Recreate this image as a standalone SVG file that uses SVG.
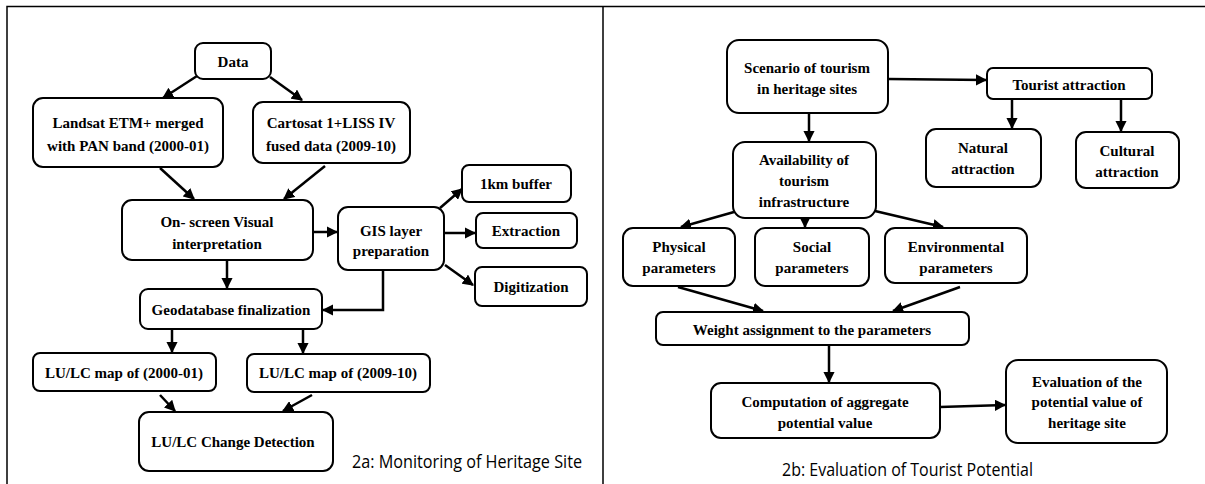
<svg xmlns="http://www.w3.org/2000/svg" width="1205" height="484" viewBox="0 0 1205 484">
<style>
.n rect{fill:#fff;stroke:#000;stroke-width:2}
.n text{font-family:'Liberation Serif','DejaVu Serif','Times New Roman',serif;font-weight:bold;font-size:15px;text-anchor:middle;fill:#000}
.c line,.c path{stroke:#000;stroke-width:2.5;fill:none;marker-end:url(#ah)}
.cap{font-family:'Open Sans','Liberation Sans',sans-serif;font-size:19px;fill:#000}
</style>
<defs>
<marker id="ah" viewBox="0 0 10 10" refX="9" refY="5" markerWidth="4.5" markerHeight="4.5" orient="auto" markerUnits="strokeWidth">
<path d="M0,0 L10,5 L0,10 z" fill="#000"/>
</marker>
</defs>
<rect x="0" y="0" width="1205" height="484" fill="#fff"/>
<path d="M7,484 V6.5 H1205 M603,6 V484" stroke="#000" stroke-width="1.5" fill="none"/>

<g class="c">
<line x1="197" y1="76" x2="163" y2="98"/>
<line x1="270" y1="77" x2="302" y2="100"/>
<line x1="160" y1="168" x2="194" y2="199"/>
<line x1="325" y1="166" x2="284" y2="199"/>
<line x1="313" y1="232" x2="337" y2="232"/>
<line x1="440" y1="208" x2="462" y2="189"/>
<line x1="444" y1="233" x2="475" y2="233"/>
<line x1="445" y1="265" x2="473" y2="285"/>
<path d="M383,270 V310 H323"/>
<line x1="227" y1="260" x2="227" y2="288"/>
<line x1="172" y1="329" x2="172" y2="352"/>
<line x1="303" y1="329" x2="303" y2="353"/>
<line x1="160" y1="395" x2="175" y2="411"/>
<line x1="312" y1="395" x2="283" y2="411"/>

<line x1="888" y1="79" x2="986" y2="80"/>
<line x1="809" y1="113" x2="809" y2="141"/>
<line x1="1012" y1="100" x2="1012" y2="128"/>
<line x1="1121" y1="100" x2="1121" y2="131"/>
<line x1="734" y1="212" x2="681" y2="227"/>
<line x1="805" y1="218" x2="805" y2="227"/>
<line x1="875" y1="211" x2="943" y2="227"/>
<line x1="678" y1="287" x2="763" y2="311"/>
<line x1="960" y1="287" x2="893" y2="311"/>
<line x1="829" y1="345" x2="829" y2="382"/>
<line x1="940" y1="407" x2="1005" y2="405"/>
</g>

<g id="data" class="n"><rect x="195" y="43" width="76" height="36" rx="8"/><text x="233" y="67">Data</text></g>
<g id="landsat" class="n"><rect x="33" y="98" width="190" height="69" rx="10"/><text x="128" y="128">Landsat ETM+ merged</text><text x="128" y="151">with PAN band (2000-01)</text></g>
<g id="cartosat" class="n"><rect x="253" y="102" width="157" height="61" rx="10"/><text x="331" y="128">Cartosat 1+LISS IV</text><text x="331" y="151">fused data (2009-10)</text></g>
<g id="onscreen" class="n"><rect x="122" y="200" width="191" height="60" rx="10"/><text x="217" y="227">On- screen Visual</text><text x="217" y="249">interpretation</text></g>
<g id="gis" class="n"><rect x="338" y="207" width="106" height="63" rx="10"/><text x="391" y="236">GIS layer</text><text x="391" y="256">preparation</text></g>
<g id="buffer" class="n"><rect x="462" y="165" width="109" height="37" rx="7"/><text x="516" y="189">1km buffer</text></g>
<g id="extraction" class="n"><rect x="476" y="213" width="101" height="35" rx="7"/><text x="526" y="236">Extraction</text></g>
<g id="digitization" class="n"><rect x="475" y="267" width="112" height="39" rx="7"/><text x="531" y="292">Digitization</text></g>
<g id="geodb" class="n"><rect x="140" y="289" width="182" height="40" rx="8"/><text x="231" y="315">Geodatabase finalization</text></g>
<g id="lulc2000" class="n"><rect x="33" y="353" width="183" height="38" rx="7"/><text x="124" y="378">LU/LC map of (2000-01)</text></g>
<g id="lulc2009" class="n"><rect x="247" y="354" width="183" height="38" rx="7"/><text x="338" y="378">LU/LC map of (2009-10)</text></g>
<g id="change" class="n"><rect x="139" y="412" width="194" height="59" rx="10"/><text x="233" y="447">LU/LC Change Detection</text></g>
<text class="cap" x="352" y="468" textLength="230" lengthAdjust="spacingAndGlyphs">2a: Monitoring of Heritage Site</text>

<g id="scenario" class="n"><rect x="727" y="40" width="161" height="73" rx="12"/><text x="807" y="73">Scenario of tourism</text><text x="807" y="94">in heritage sites</text></g>
<g id="tourist" class="n"><rect x="987" y="68" width="165" height="31" rx="6"/><text x="1069" y="90">Tourist attraction</text></g>
<g id="availability" class="n"><rect x="733" y="142" width="143" height="76" rx="12"/><text x="804" y="165">Availability of</text><text x="804" y="186">tourism</text><text x="804" y="207">infrastructure</text></g>
<g id="natural" class="n"><rect x="926" y="129" width="115" height="58" rx="10"/><text x="983" y="153">Natural</text><text x="983" y="174">attraction</text></g>
<g id="cultural" class="n"><rect x="1076" y="132" width="103" height="56" rx="10"/><text x="1127" y="156">Cultural</text><text x="1127" y="177">attraction</text></g>
<g id="physical" class="n"><rect x="623" y="228" width="112" height="58" rx="10"/><text x="679" y="252">Physical</text><text x="679" y="273">parameters</text></g>
<g id="social" class="n"><rect x="755" y="228" width="114" height="58" rx="10"/><text x="812" y="252">Social</text><text x="812" y="273">parameters</text></g>
<g id="environmental" class="n"><rect x="885" y="228" width="142" height="55" rx="10"/><text x="956" y="252">Environmental</text><text x="956" y="273">parameters</text></g>
<g id="weight" class="n"><rect x="656" y="312" width="313" height="33" rx="7"/><text x="812" y="335">Weight assignment to the parameters</text></g>
<g id="computation" class="n"><rect x="711" y="383" width="229" height="55" rx="10"/><text x="825" y="407">Computation of aggregate</text><text x="825" y="428">potential value</text></g>
<g id="evaluation" class="n"><rect x="1006" y="360" width="161" height="83" rx="12"/><text x="1087" y="387">Evaluation of the</text><text x="1087" y="407">potential value of</text><text x="1087" y="428">heritage site</text></g>
<text class="cap" x="782" y="476" textLength="251" lengthAdjust="spacingAndGlyphs">2b: Evaluation of Tourist Potential</text>
</svg>
